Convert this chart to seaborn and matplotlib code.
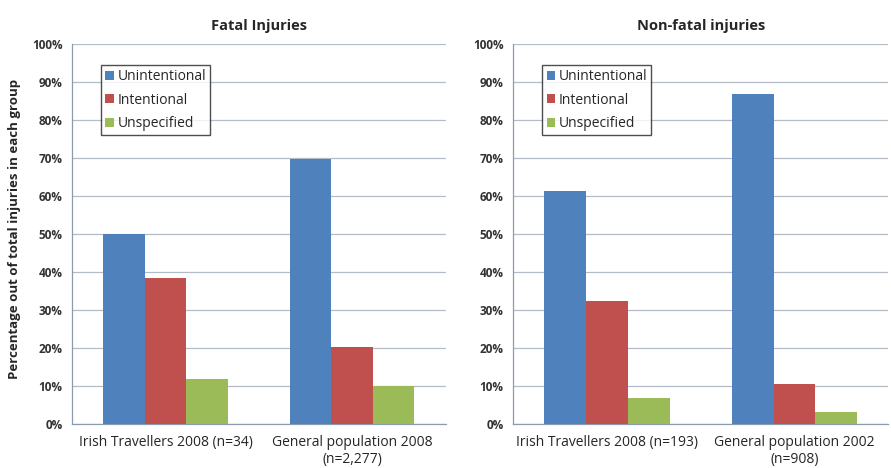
import matplotlib
matplotlib.use("Agg")
import matplotlib.pyplot as plt
import seaborn as sns
import pandas as pd
from matplotlib.ticker import PercentFormatter, FixedLocator

# data (percent)
types = ["Unintentional", "Intentional", "Unspecified"]
fatal_groups = ["Irish Travellers 2008 (n=34)", "General population 2008\n(n=2,277)"]
fatal_vals = [[50.0, 38.3, 11.8], [69.7, 20.3, 10.1]]
nonfatal_groups = ["Irish Travellers 2008 (n=193)", "General population 2002\n(n=908)"]
nonfatal_vals = [[61.2, 32.4, 6.8], [86.8, 10.5, 3.2]]

colors = ["#4F81BD", "#C0504D", "#9BBB59"]

sns.set_style("white")
plt.rcParams['font.family'] = ['Open Sans', 'DejaVu Sans']


def make_df(groups, vals):
    rows = []
    for g, v in zip(groups, vals):
        for t, x in zip(types, v):
            rows.append({"group": g, "type": t, "pct": x})
    return pd.DataFrame(rows)


fig = plt.figure(figsize=(8.91, 4.68), dpi=100)
ax1 = fig.add_axes([0.081, 0.094, 0.419, 0.812])
ax2 = fig.add_axes([0.576, 0.094, 0.421, 0.812])

for ax, groups, vals, title in [(ax1, fatal_groups, fatal_vals, "Fatal Injuries"),
                                (ax2, nonfatal_groups, nonfatal_vals, "Non-fatal injuries")]:
    df = make_df(groups, vals)
    sns.barplot(data=df, x="group", y="pct", hue="type", palette=colors,
                width=0.667, gap=0, saturation=1, linewidth=0, ax=ax, zorder=3)
    ax.set_ylim(0, 100)
    ax.set_xlim(-0.5, 1.5)
    ax.set_yticks(range(0, 101, 10))
    ax.yaxis.set_major_formatter(PercentFormatter(decimals=0))
    ax.grid(axis="y", color="#b4bcc8", linewidth=0.9, zorder=0)
    ax.set_axisbelow(True)
    for s in ["top", "right"]:
        ax.spines[s].set_visible(False)
    for s in ["left", "bottom"]:
        ax.spines[s].set_color("#8a9bb0")
        ax.spines[s].set_linewidth(0.9)
    ax.tick_params(axis="y", length=5, color="#8a9bb0", labelsize=8.5, pad=2)
    for lab in ax.get_yticklabels():
        lab.set_fontweight("bold")
        lab.set_color("#333333")
    ax.tick_params(axis="x", which="major", length=0, labelsize=10, pad=8)
    ax.xaxis.set_minor_locator(FixedLocator([-0.5, 0.5, 1.5]))
    ax.tick_params(axis="x", which="minor", length=5, color="#8a9bb0")
    ax.set_xlabel("")
    ax.set_ylabel("")
    ax.set_title(title, fontsize=10.5, fontweight="bold", pad=10)
    leg = ax.legend(loc="upper left", bbox_to_anchor=(0.078, 0.945), fontsize=10,
                    frameon=True, fancybox=False, edgecolor="#222222",
                    handlelength=0.6, handleheight=0.6, handletextpad=0.25,
                    labelspacing=0.62, borderpad=0.3, borderaxespad=0)
    leg.get_frame().set_linewidth(1.0)

fig.text(0.016, 0.511, "Percentage out of total injuries in each group", rotation=90,
         va="center", ha="center", fontsize=9.5, fontweight="bold")

fig.savefig("out.png", dpi=100)
